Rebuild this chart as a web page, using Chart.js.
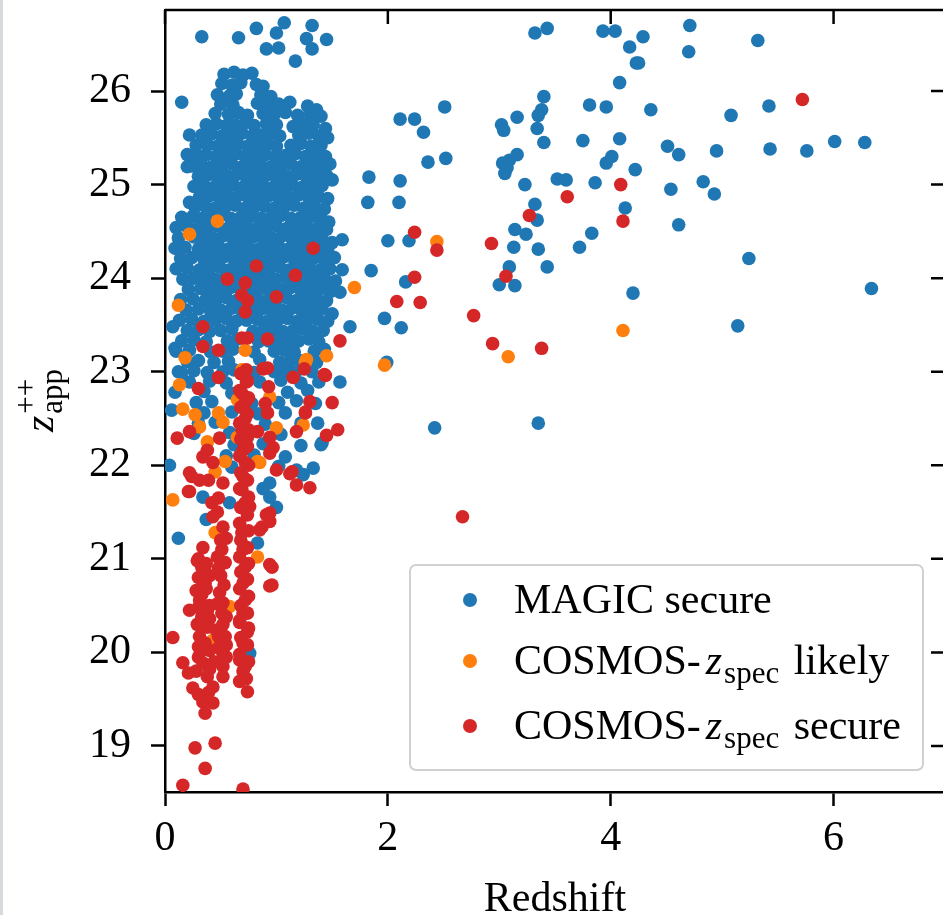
<!DOCTYPE html>
<html>
<head>
<meta charset="utf-8">
<script src="https://cdn.jsdelivr.net/npm/chart.js@4.4.0/dist/chart.umd.min.js"></script>
<style>
  html, body { margin: 0; padding: 0; background: #fff; overflow: hidden; }
  #wrap { position: relative; width: 960px; height: 915px; }
  #edge { position: absolute; left: 0; top: 0; width: 3px; height: 915px; background: #d6dadd; }
</style>
</head>
<body>
<div id="wrap">
  <canvas id="chart" width="960" height="915"></canvas>
  <div id="edge"></div>
</div>
<script>
// tick values
const xTicks = [0, 2, 4, 6];
const yTicks = [19, 20, 21, 22, 23, 24, 25, 26];

// MAGIC secure (redshift, z_app++)
const magicSecure = [
  [0.33,26.58],[0.66,26.57],[0.82,26.67],[1.07,26.73],[1.00,26.62],[0.91,26.45],[1.02,26.46],[1.17,26.32],
  [1.32,26.70],[1.27,26.56],[1.32,26.45],[1.45,26.55],[0.15,25.88],[0.22,25.53],[0.20,25.32],[0.20,25.19],[0.22,24.81],
  [0.53,26.18],[0.62,26.20],[0.70,26.17],[0.78,26.19],
  [0.51,26.08],[0.60,26.06],[0.68,26.09],[0.82,26.07],[0.88,26.05],
  [0.47,25.96],[0.58,25.95],[0.64,25.97],[0.86,25.96],[0.95,25.94],
  [0.50,25.86],[0.61,25.85],[0.83,25.87],[0.93,25.85],[1.02,25.86],[1.12,25.88],[1.28,25.84],[1.36,25.80],
  [0.45,25.76],[0.57,25.75],[0.66,25.77],[0.74,25.74],[0.88,25.76],[0.98,25.75],[1.08,25.77],[1.19,25.74],[1.30,25.76],[1.40,25.73],
  [0.37,25.64],[0.46,25.65],[0.55,25.63],[0.63,25.64],[0.72,25.66],[0.80,25.63],[0.91,25.65],[1.00,25.64],[1.15,25.62],[1.24,25.65],[1.33,25.64],[1.44,25.60],
  [0.33,25.53],[0.42,25.54],[0.51,25.52],[0.60,25.53],[0.69,25.55],[0.78,25.52],[0.86,25.53],[0.95,25.54],[1.03,25.52],[1.20,25.53],[1.29,25.55],[1.38,25.52],[1.46,25.50],
  [0.28,25.42],[0.38,25.43],[0.47,25.41],[0.56,25.42],[0.65,25.44],[0.74,25.41],[0.83,25.42],[0.92,25.43],[1.00,25.41],[1.13,25.42],[1.22,25.44],[1.31,25.41],[1.40,25.42],
  [0.29,25.31],[0.37,25.32],[0.46,25.30],[0.55,25.31],[0.64,25.33],[0.72,25.30],[0.81,25.31],[0.90,25.32],[0.99,25.30],[1.08,25.31],[1.17,25.33],[1.26,25.30],[1.35,25.31],[1.44,25.30],
  [0.24,25.20],[0.33,25.21],[0.42,25.19],[0.51,25.20],[0.60,25.22],[0.69,25.19],[0.77,25.20],[0.86,25.21],[0.95,25.19],[1.04,25.20],[1.13,25.22],[1.22,25.19],[1.31,25.20],[1.40,25.21],[1.48,25.22],
  [0.30,25.09],[0.38,25.10],[0.47,25.08],[0.56,25.09],[0.65,25.11],[0.73,25.08],[0.82,25.09],[0.91,25.10],[1.00,25.08],[1.09,25.09],[1.18,25.11],[1.27,25.08],[1.36,25.09],[1.45,25.10],
  [0.26,24.98],[0.35,24.99],[0.44,24.97],[0.53,24.98],[0.61,25.00],[0.70,24.97],[0.79,24.98],[0.88,24.99],[0.97,24.97],[1.06,24.98],[1.14,25.00],[1.23,24.97],[1.32,24.98],[1.41,24.99],[1.50,25.05],
  [0.31,24.87],[0.40,24.88],[0.49,24.86],[0.58,24.87],[0.67,24.89],[0.75,24.86],[0.84,24.87],[0.93,24.88],[1.02,24.86],[1.11,24.87],[1.20,24.89],[1.29,24.86],[1.38,24.87],[1.46,24.85],
  [0.27,24.76],[0.36,24.77],[0.45,24.75],[0.54,24.76],[0.63,24.78],[0.72,24.75],[0.80,24.76],[0.89,24.77],[0.98,24.75],[1.07,24.76],[1.16,24.78],[1.25,24.75],[1.34,24.76],[1.43,24.74],
  [0.15,24.65],[0.25,24.66],[0.33,24.64],[0.41,24.65],[0.50,24.67],[0.59,24.64],[0.68,24.65],[0.77,24.66],[0.86,24.64],[0.95,24.65],[1.04,24.67],[1.13,24.64],[1.22,24.65],[1.31,24.66],[1.40,24.64],[1.47,24.60],
  [0.10,24.54],[0.20,24.55],[0.29,24.53],[0.38,24.54],[0.47,24.56],[0.56,24.53],[0.64,24.54],[0.73,24.55],[0.82,24.53],[0.91,24.54],[1.00,24.56],[1.09,24.53],[1.18,24.54],[1.27,24.55],[1.36,24.53],[1.45,24.52],
  [0.12,24.43],[0.26,24.44],[0.34,24.42],[0.43,24.43],[0.52,24.45],[0.61,24.42],[0.70,24.43],[0.79,24.44],[0.88,24.42],[0.96,24.43],[1.05,24.45],[1.14,24.42],[1.23,24.43],[1.32,24.44],[1.41,24.42],[1.50,24.38],
  [0.09,24.32],[0.18,24.33],[0.30,24.31],[0.39,24.32],[0.48,24.34],[0.57,24.31],[0.66,24.32],[0.75,24.33],[0.84,24.31],[0.93,24.32],[1.02,24.34],[1.11,24.31],[1.20,24.32],[1.28,24.33],[1.37,24.31],[1.46,24.30],
  [0.14,24.21],[0.24,24.22],[0.35,24.20],[0.44,24.21],[0.53,24.23],[0.62,24.20],[0.71,24.21],[0.80,24.22],[0.89,24.20],[0.98,24.21],[1.07,24.23],[1.16,24.20],[1.25,24.21],[1.34,24.22],[1.43,24.20],[1.52,24.22],
  [0.10,24.10],[0.20,24.11],[0.31,24.09],[0.40,24.10],[0.49,24.12],[0.58,24.09],[0.67,24.10],[0.76,24.11],[0.85,24.09],[0.94,24.10],[1.03,24.12],[1.12,24.09],[1.21,24.10],[1.30,24.11],[1.39,24.09],[1.48,24.10],
  [0.16,23.99],[0.26,24.00],[0.36,23.98],[0.45,23.99],[0.54,24.01],[0.63,23.98],[0.72,23.99],[0.81,24.00],[0.90,23.98],[0.99,23.99],[1.08,24.01],[1.17,23.98],[1.26,23.99],[1.35,24.00],[1.44,23.98],[1.53,23.97],
  [0.21,23.88],[0.32,23.89],[0.41,23.87],[0.50,23.88],[0.59,23.90],[0.68,23.87],[0.77,23.88],[0.86,23.89],[0.95,23.87],[1.04,23.88],[1.13,23.90],[1.22,23.87],[1.31,23.88],[1.40,23.89],[1.49,23.86],
  [0.14,23.77],[0.25,23.78],[0.36,23.76],[0.46,23.77],[0.55,23.79],[0.64,23.76],[0.73,23.77],[0.82,23.78],[0.91,23.76],[1.00,23.77],[1.09,23.79],[1.18,23.76],[1.27,23.77],[1.36,23.78],[1.45,23.76],
  [0.19,23.66],[0.30,23.67],[0.41,23.65],[0.50,23.66],[0.60,23.68],[0.69,23.65],[0.78,23.66],[0.87,23.67],[0.96,23.65],[1.05,23.66],[1.14,23.68],[1.23,23.65],[1.32,23.66],[1.41,23.67],[1.50,23.62],
  [0.13,23.55],[0.24,23.56],[0.35,23.54],[0.45,23.55],[0.55,23.57],[0.64,23.54],[0.73,23.55],[0.83,23.56],[0.92,23.54],[1.01,23.55],[1.10,23.57],[1.19,23.54],[1.28,23.55],[1.37,23.56],[1.46,23.54],
  [0.20,23.44],[0.30,23.45],[0.40,23.43],[0.50,23.44],[0.60,23.46],[0.79,23.43],[0.88,23.44],[0.97,23.45],[1.06,23.43],[1.15,23.44],[1.24,23.46],[1.33,23.43],[1.42,23.44],
  [0.15,23.33],[0.26,23.34],[0.37,23.32],[0.56,23.33],[0.65,23.35],[0.84,23.32],[0.93,23.33],[1.02,23.34],[1.11,23.32],[1.20,23.33],[1.29,23.35],[1.38,23.32],
  [0.10,23.22],[0.22,23.23],[0.41,23.21],[0.52,23.22],[0.61,23.24],[0.80,23.21],[0.98,23.22],[1.07,23.23],[1.16,23.21],[1.34,23.22],[1.43,23.24],
  [0.20,23.11],[0.30,23.12],[0.44,23.10],[0.57,23.11],[0.85,23.13],[1.03,23.10],[1.12,23.11],[1.21,23.12],[1.36,23.10],
  [0.12,23.00],[0.26,23.01],[0.38,22.99],[0.52,23.00],[0.62,23.02],[0.80,22.99],[0.98,23.00],[1.08,23.01],[1.17,22.99],[1.32,23.00],
  [0.22,22.89],[0.40,22.90],[0.55,22.88],[0.85,22.89],[1.04,22.91],[1.22,22.88],[1.38,22.89],
  [0.09,22.78],[0.35,22.79],[0.60,22.77],[1.10,22.78],[1.28,22.80],
  [0.28,22.67],[0.42,22.68],[0.78,22.66],[1.02,22.67],[1.18,22.69],[1.35,22.66],
  [0.35,22.56],[0.60,22.57],[0.84,22.55],[1.08,22.56],
  [0.30,22.45],[0.45,22.46],[0.90,22.44],[1.22,22.45],
  [0.26,22.34],[0.58,22.35],[1.04,22.33],
  [0.62,22.22],[0.88,22.23],[1.22,22.21],[1.40,22.22],
  [0.55,22.10],[0.80,22.11],[1.08,22.09],
  [0.60,21.98],[1.02,21.99],
  [0.06,22.59],[0.04,22.00],[0.12,21.22],[0.15,22.99],[0.09,23.25],[0.07,23.48],[0.37,21.42],[0.34,21.66],
  [0.58,21.60],[0.94,21.81],[0.94,21.66],[1.18,21.95],[1.24,21.90],[1.33,21.97],[1.41,22.24],[1.37,22.45],
  [1.57,22.89],[1.66,23.48],[1.59,24.09],[1.57,23.85],[1.59,24.41],[0.76,19.99],[1.00,21.55],[0.88,21.75],[0.83,21.17],
  [1.97,23.57],[2.12,23.47],[1.99,23.10],[2.42,22.40],[3.35,22.45],
  [3.32,26.62],[3.43,26.67],[3.93,26.64],[4.04,26.64],[4.17,26.47],[4.23,26.30],[4.08,26.09],
  [2.51,25.83],[2.11,25.70],[2.24,25.70],[2.32,25.56],[2.36,25.24],[2.52,25.28],
  [1.83,25.08],[2.11,25.04],[1.82,24.81],[2.10,24.81],[2.00,24.40],[2.19,24.40],[1.85,24.08],[2.16,23.96],
  [3.02,25.64],[3.04,25.58],[3.16,25.72],[3.40,25.94],[3.38,25.80],[3.35,25.74],[3.34,25.60],[3.40,25.45],
  [3.03,25.23],[3.07,25.18],[3.16,25.32],[3.09,25.26],[3.05,25.12],[3.23,25.00],[3.52,25.06],[3.60,25.05],
  [3.81,25.85],[3.96,25.83],[3.75,25.47],[4.08,25.49],[3.96,25.23],[4.01,25.30],[3.86,25.02],[4.22,25.16],
  [3.32,24.79],[3.34,24.62],[3.14,24.52],[3.24,24.47],[3.13,24.33],[3.35,24.31],[3.43,24.12],[3.09,24.12],
  [3.00,23.93],[3.14,23.92],[3.83,24.48],[3.72,24.33],[4.13,24.75],[4.20,23.84],
  [4.71,26.70],[4.70,26.42],[5.32,26.54],[4.29,26.58],[4.25,26.30],[4.36,25.80],[5.08,25.74],[5.42,25.84],
  [4.51,25.41],[4.61,25.32],[4.95,25.36],[5.43,25.38],[5.76,25.36],[6.01,25.46],[6.28,25.45],
  [4.54,24.95],[4.83,25.03],[4.93,24.90],[4.61,24.57],[5.24,24.21],[6.34,23.89],[5.14,23.49]
];

// COSMOS-zspec likely
const cosmosLikely = [
  [0.22,24.47],[0.47,24.61],[0.12,23.71],[0.18,23.15],[0.13,22.86],[0.16,22.60],[0.27,22.54],[0.48,22.56],
  [0.52,22.46],[0.31,22.41],[0.72,23.23],[0.69,23.02],[1.27,23.13],[1.45,23.17],[1.70,23.90],[0.94,22.73],
  [1.00,22.40],[0.38,22.25],[1.24,22.43],[0.83,22.04],[0.85,22.03],[0.54,22.04],[0.45,21.93],[0.07,21.63],
  [0.65,22.30],[0.65,22.70],[1.26,23.10],[1.97,23.07],[3.08,23.16],[4.11,23.44],[2.44,24.39],[0.83,21.02],
  [0.45,21.28],[0.58,20.49],[0.43,20.13]
];

// COSMOS-zspec secure
const cosmosSecure = [
  [1.33,24.32],[0.82,24.13],[0.56,23.99],[0.72,23.95],[1.17,24.03],[1.00,23.80],[0.69,23.82],[0.74,23.76],
  [0.72,23.64],[0.34,23.48],[0.69,23.36],[0.74,23.36],[0.92,23.35],[0.34,23.27],[0.48,23.23],[1.57,23.33],
  [0.73,23.02],[0.88,23.03],[0.92,23.04],[0.48,22.94],[0.30,22.82],[0.73,22.89],[0.93,22.84],[1.15,22.94],
  [1.25,23.03],[1.43,22.97],[0.69,22.77],[0.72,22.67],[0.90,22.66],[1.30,22.68],[1.50,22.67],[0.92,22.56],
  [1.26,22.56],[0.72,22.50],[0.11,22.29],[0.22,22.36],[0.49,22.29],[0.38,22.16],[0.69,22.38],[0.74,22.30],
  [0.83,22.36],[0.94,22.30],[0.97,22.19],[1.18,22.36],[1.45,22.32],[1.55,22.38],[0.70,22.16],[0.34,22.09],
  [0.43,22.03],[0.72,22.03],[0.94,22.13],[0.70,21.88],[0.24,21.88],[0.31,21.84],[0.39,21.84],[0.52,21.81],
  [1.00,21.95],[1.14,21.93],[1.18,21.79],[1.30,21.76],[0.22,21.72],[0.48,21.65],[0.69,21.74],[0.72,21.60],
  [1.26,22.57],[1.12,21.91],[0.96,20.91],[0.96,20.72],[0.22,21.92],[0.21,21.72],[1.44,22.96],
  [3.61,24.87],[3.27,24.67],[4.09,25.00],[4.11,24.61],[2.24,24.49],[2.44,24.30],[2.93,24.37],[2.24,24.01],
  [2.08,23.75],[2.29,23.74],[2.77,23.60],[3.06,24.02],[2.94,23.30],[3.38,23.25],[2.67,21.45],[5.72,25.91],
  [0.42,21.60],[0.43,21.45],[0.52,21.34],[0.69,21.56],[0.76,21.56],[0.91,21.47],[0.87,21.34],[0.94,21.40],
  [0.34,21.12],[0.51,21.10],[0.54,20.96],[0.69,21.28],[0.70,21.10],[0.72,20.91],[0.94,20.94],[0.94,20.71],
  [0.33,20.91],[0.33,20.78],[0.36,20.74],[0.49,20.64],[0.52,20.53],[0.31,20.56],[0.22,20.45],[0.33,20.38],
  [0.38,20.27],[0.51,20.42],[0.48,20.17],[0.54,20.17],[0.70,20.74],[0.72,20.56],[0.70,20.42],[0.67,20.32],
  [0.74,20.22],[0.70,20.10],[0.07,20.16],[0.31,20.17],[0.34,20.03],[0.16,19.89],[0.21,19.78],[0.25,19.62],
  [0.34,19.89],[0.38,19.74],[0.43,19.63],[0.34,19.47],[0.36,19.35],[0.43,19.46],[0.52,19.99],[0.52,19.85],
  [0.52,19.74],[0.67,19.92],[0.72,19.85],[0.67,19.69],[0.74,19.58],[0.27,18.98],[0.45,19.03],[0.36,18.76],
  [0.16,18.58],[0.70,18.54],[0.94,21.49],[0.85,21.31],
  [0.68,22.98],[0.74,22.90],[0.67,22.80],[0.75,22.72],[0.68,22.62],[0.74,22.55],[0.67,22.45],[0.75,22.38],
  [0.68,22.28],[0.74,22.20],[0.67,22.10],[0.75,22.00],[0.68,21.92],[0.74,21.84],[0.67,21.75],[0.75,21.66],
  [0.68,21.55],[0.74,21.47],[0.67,21.38],[0.75,21.30],[0.68,21.20],[0.74,21.12],[0.67,21.02],[0.75,20.95],
  [0.68,20.86],[0.74,20.78],[0.67,20.68],[0.75,20.60],[0.68,20.50],[0.74,20.42],[0.67,20.34],[0.75,20.26],
  [0.68,20.16],[0.74,20.08],[0.67,19.98],[0.75,19.90],[0.70,19.80],[0.73,19.72],
  [0.30,21.00],[0.36,20.86],[0.33,20.62],[0.40,20.50],[0.50,20.82],[0.52,20.30],[0.36,20.10],[0.48,20.05],
  [0.44,19.90],[0.30,19.95],
  [0.29,20.98],[0.37,20.95],[0.30,20.80],[0.40,20.82],[0.28,20.66],[0.37,20.68],[0.30,20.48],[0.38,20.44],
  [0.29,20.30],[0.40,20.36],[0.30,20.06],[0.40,20.02],[0.28,19.80],[0.40,19.82],[0.30,19.55],[0.39,19.57],
  [0.47,21.50],[0.50,21.20],[0.47,21.02],[0.55,21.22],[0.48,20.90],[0.53,20.72],[0.47,20.52],[0.55,20.38],
  [0.46,20.24],[0.55,20.08],[0.55,19.95]
];

const colors = { magic: "#1f77b4", likely: "#ff7f0e", secure: "#d62728" };

// legend rows: pieces of text, "n" normal, "i" italic, "s" subscript
const legendRows = [
  { color: colors.magic, parts: [["MAGIC secure", "n"]] },
  { color: colors.likely, parts: [["COSMOS-", "n"], ["z", "i"], ["spec", "s"], [" likely", "n"]] },
  { color: colors.secure, parts: [["COSMOS-", "n"], ["z", "i"], ["spec", "s"], [" secure", "n"]] }
];

const SERIF = "'Liberation Serif', 'DejaVu Serif', serif";
const FS = 42;
const SUB = 31;

const toPts = arr => arr.map(p => ({ x: p[0], y: p[1] }));

function drawParts(ctx, parts, x, y) {
  parts.forEach(([txt, kind]) => {
    let dy = 0;
    if (kind === "n") ctx.font = `${FS}px ${SERIF}`;
    else if (kind === "i") { ctx.font = `italic ${FS}px ${SERIF}`; x += 5; }
    else { ctx.font = `${SUB}px ${SERIF}`; dy = 9; x += 2; }
    ctx.fillText(txt, x, y + dy);
    x += ctx.measureText(txt).width + (kind === "s" ? 4 : 0);
  });
}

const framePlugin = {
  id: "frame",
  afterDraw(chart) {
    const { ctx, chartArea: a, scales } = chart;
    const x = scales.x, y = scales.y;
    ctx.save();
    ctx.strokeStyle = "#000";
    ctx.lineWidth = 2.5;
    ctx.beginPath();
    ctx.moveTo(a.left, a.top);
    ctx.lineTo(a.right, a.top);
    ctx.lineTo(a.right, a.bottom);
    xTicks.forEach(v => {
      const px = x.getPixelForValue(v);
      ctx.moveTo(px, a.top);
      ctx.lineTo(px, a.top + 14);
    });
    yTicks.forEach(v => {
      const py = y.getPixelForValue(v);
      ctx.moveTo(a.right, py);
      ctx.lineTo(a.right - 14, py);
    });
    ctx.stroke();

    ctx.fillStyle = "#000";
    ctx.textBaseline = "alphabetic";

    // x title
    ctx.font = `${FS}px ${SERIF}`;
    ctx.textAlign = "center";
    ctx.fillText("Redshift", (a.left + a.right) / 2, 911);

    // y title: z_app^{++}, rotated
    ctx.save();
    ctx.translate(53, 432);
    ctx.rotate(-Math.PI / 2);
    ctx.textAlign = "left";
    ctx.font = `italic ${FS}px ${SERIF}`;
    ctx.fillText("z", 0, 0);
    const zw = ctx.measureText("z").width + 2;
    ctx.font = `${SUB}px ${SERIF}`;
    ctx.fillText("app", zw, 9);
    ctx.fillText("++", zw, -17);
    ctx.restore();

    // legend
    const lx = 410, ly = 565, lw = 513, lh = 205;
    ctx.beginPath();
    ctx.roundRect(lx, ly, lw, lh, 6);
    ctx.fillStyle = "rgba(255,255,255,0.8)";
    ctx.fill();
    ctx.strokeStyle = "#d0d0d0";
    ctx.lineWidth = 2;
    ctx.stroke();
    const baselines = [613, 674, 739];
    legendRows.forEach((row, i) => {
      ctx.beginPath();
      ctx.fillStyle = row.color;
      ctx.arc(470, baselines[i] - 13, 7, 0, Math.PI * 2);
      ctx.fill();
      ctx.fillStyle = "#000";
      ctx.textAlign = "left";
      drawParts(ctx, row.parts, 514, baselines[i]);
    });
    ctx.restore();
  }
};

const axisCommon = {
  type: "linear",
  grid: { display: true, drawOnChartArea: false, drawTicks: true, tickLength: 14, tickWidth: 2.5, tickColor: "#000" },
  border: { display: true, color: "#000", width: 2.5 },
  ticks: { color: "#000", font: { family: SERIF, size: FS } }
};

new Chart(document.getElementById("chart"), {
  type: "scatter",
  data: {
    datasets: [
      { label: "MAGIC secure", data: toPts(magicSecure), backgroundColor: colors.magic, order: 3 },
      { label: "COSMOS-zspec likely", data: toPts(cosmosLikely), backgroundColor: colors.likely, order: 2 },
      { label: "COSMOS-zspec secure", data: toPts(cosmosSecure), backgroundColor: colors.secure, order: 1 }
    ]
  },
  options: {
    responsive: false,
    animation: false,
    events: [],
    layout: { padding: { left: 0, top: 10, right: 15, bottom: 0 } },
    elements: { point: { radius: 6.8, borderWidth: 0, hoverRadius: 6.8 } },
    plugins: { legend: { display: false }, tooltip: { enabled: false } },
    scales: {
      x: {
        ...axisCommon,
        min: 0, max: 7,
        ticks: { ...axisCommon.ticks, padding: 8 },
        afterBuildTicks: s => { s.ticks = xTicks.map(v => ({ value: v })); },
        afterFit: s => { s.height = 123; s.paddingLeft = 0; s.paddingRight = 0; }
      },
      y: {
        ...axisCommon,
        min: 18.508, max: 26.866,
        ticks: { ...axisCommon.ticks, padding: 20 },
        afterBuildTicks: s => { s.ticks = yTicks.map(v => ({ value: v })); },
        afterFit: s => { s.width = 165; s.paddingTop = 0; s.paddingBottom = 0; }
      }
    }
  },
  plugins: [framePlugin]
});
</script>
</body>
</html>
